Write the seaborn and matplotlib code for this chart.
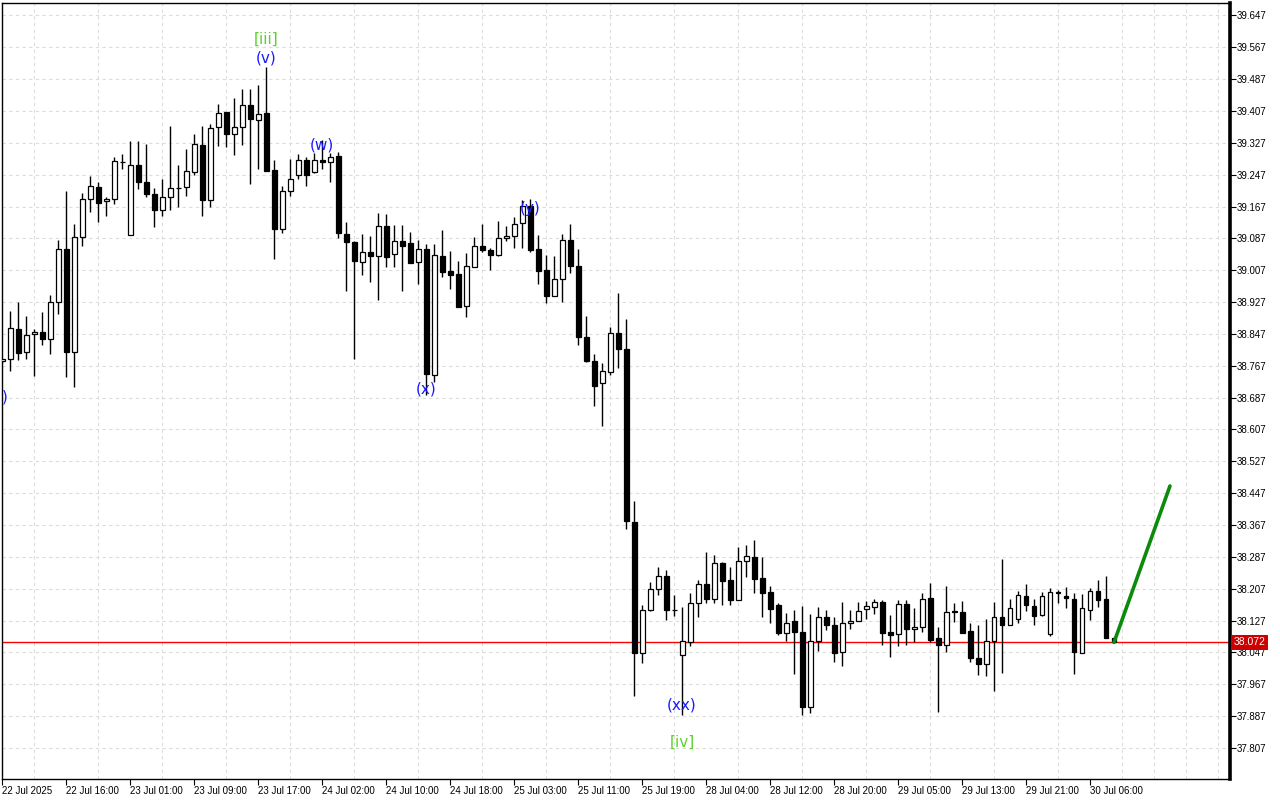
#!/usr/bin/env python3
"""
Gráfico de velas horario con etiquetas de ondas de Elliott y proyección.
"""

import numpy as np
import pandas as pd
import matplotlib
matplotlib.use("Agg")
import matplotlib.pyplot as plt
import matplotlib.transforms as mtransforms
import seaborn as sns

# --- Datos ---
opens = [
    38.778, 38.783, 38.859, 38.801, 38.846, 38.851, 38.834, 38.926, 39.060, 38.801,
    39.090, 39.185, 39.216, 39.180, 39.185, 39.278, 39.095, 39.271, 39.228, 39.198,
    39.158, 39.190, 39.214, 39.215, 39.253, 39.321, 39.184, 39.366, 39.404, 39.348,
    39.366, 39.421, 39.384, 39.402, 39.259, 39.111, 39.205, 39.246, 39.283, 39.253,
    39.283, 39.278, 39.293, 39.097, 39.077, 39.027, 39.052, 39.042, 39.117, 39.047,
    39.080, 39.075, 39.027, 39.060, 38.743, 39.043, 39.005, 38.997, 38.916, 39.016,
    39.067, 39.058, 39.044, 39.087, 39.092, 39.125, 39.168, 39.060, 39.008, 38.943,
    38.984, 39.082, 39.018, 38.839, 38.779, 38.724, 38.752, 38.849, 38.809, 38.374,
    38.045, 38.153, 38.205, 38.238, 38.153, 38.040, 38.072, 38.170, 38.219, 38.182,
    38.271, 38.228, 38.179, 38.276, 38.286, 38.233, 38.199, 38.165, 38.096, 38.125,
    38.097, 37.909, 38.075, 38.137, 38.117, 38.047, 38.120, 38.127, 38.155, 38.160,
    38.174, 38.097, 38.092, 38.168, 38.107, 38.111, 38.183, 38.082, 38.065, 38.151,
    38.148, 38.101, 38.034, 38.017, 38.075, 38.136, 38.116, 38.132, 38.189, 38.163,
    38.142, 38.094, 38.199, 38.188, 38.180, 38.046, 38.154, 38.200, 38.180, 38.084,
]
highs = [
    38.784, 38.905, 38.928, 38.893, 38.859, 38.901, 38.945, 39.083, 39.207, 39.123,
    39.202, 39.244, 39.228, 39.190, 39.292, 39.299, 39.332, 39.332, 39.325, 39.213,
    39.236, 39.368, 39.271, 39.312, 39.349, 39.369, 39.374, 39.425, 39.404, 39.440,
    39.462, 39.462, 39.472, 39.518, 39.284, 39.219, 39.287, 39.299, 39.292, 39.302,
    39.334, 39.301, 39.303, 39.127, 39.081, 39.098, 39.093, 39.150, 39.148, 39.121,
    39.121, 39.102, 39.082, 39.073, 39.073, 39.108, 39.055, 39.030, 39.050, 39.091,
    39.123, 39.062, 39.131, 39.119, 39.140, 39.184, 39.186, 39.096, 39.045, 39.043,
    39.098, 39.123, 39.060, 38.892, 38.797, 38.774, 38.864, 38.949, 38.884, 38.427,
    38.166, 38.224, 38.261, 38.254, 38.190, 38.160, 38.195, 38.228, 38.299, 38.292,
    38.275, 38.261, 38.312, 38.317, 38.329, 38.286, 38.215, 38.172, 38.145, 38.153,
    38.163, 38.143, 38.160, 38.153, 38.135, 38.173, 38.153, 38.173, 38.177, 38.180,
    38.178, 38.141, 38.179, 38.179, 38.158, 38.196, 38.222, 38.110, 38.214, 38.172,
    38.176, 38.121, 38.116, 38.132, 38.173, 38.282, 38.180, 38.202, 38.219, 38.180,
    38.199, 38.209, 38.204, 38.212, 38.195, 38.194, 38.209, 38.229, 38.240, 38.086,
]
lows = [
    38.774, 38.755, 38.781, 38.784, 38.742, 38.819, 38.797, 38.898, 38.739, 38.714,
    39.069, 39.152, 39.129, 39.142, 39.173, 39.261, 39.095, 39.212, 39.192, 39.116,
    39.142, 39.157, 39.167, 39.194, 39.246, 39.144, 39.167, 39.320, 39.317, 39.297,
    39.322, 39.224, 39.262, 39.255, 39.035, 39.101, 39.194, 39.235, 39.219, 39.251,
    39.260, 39.229, 39.087, 38.956, 38.785, 38.996, 38.978, 38.931, 39.016, 39.014,
    38.956, 39.024, 38.972, 38.694, 38.726, 38.989, 38.960, 38.914, 38.890, 39.014,
    39.054, 39.008, 39.042, 39.081, 39.064, 39.062, 39.054, 38.972, 38.924, 38.941,
    38.928, 38.999, 38.819, 38.777, 38.667, 38.616, 38.744, 38.761, 38.356, 37.938,
    38.021, 38.151, 38.192, 38.128, 38.139, 37.890, 38.064, 38.137, 38.172, 38.172,
    38.167, 38.167, 38.178, 38.237, 38.197, 38.137, 38.120, 38.091, 38.076, 37.993,
    37.891, 37.896, 38.051, 38.103, 38.023, 38.013, 38.106, 38.126, 38.131, 38.143,
    38.066, 38.035, 38.063, 38.065, 38.074, 38.098, 38.072, 37.898, 38.049, 38.124,
    38.095, 38.023, 37.991, 37.988, 37.951, 37.996, 38.116, 38.120, 38.150, 38.116,
    38.139, 38.088, 38.172, 38.158, 37.993, 38.045, 38.128, 38.162, 38.082, 38.072,
]
closes = [
    38.783, 38.861, 38.800, 38.844, 38.851, 38.833, 38.926, 39.060, 38.802, 39.090,
    39.185, 39.219, 39.177, 39.185, 39.281, 39.278, 39.271, 39.228, 39.198, 39.159,
    39.190, 39.213, 39.214, 39.256, 39.323, 39.184, 39.364, 39.401, 39.348, 39.367,
    39.421, 39.386, 39.399, 39.255, 39.111, 39.206, 39.236, 39.283, 39.246, 39.283,
    39.278, 39.291, 39.100, 39.077, 39.029, 39.052, 39.042, 39.117, 39.041, 39.080,
    39.069, 39.026, 39.060, 38.747, 39.045, 39.003, 38.996, 38.915, 39.017, 39.067,
    39.059, 39.046, 39.088, 39.092, 39.122, 39.168, 39.058, 39.006, 38.943, 38.984,
    39.082, 39.018, 38.838, 38.779, 38.717, 38.753, 38.849, 38.808, 38.378, 38.045,
    38.153, 38.205, 38.238, 38.153, 38.153, 38.075, 38.170, 38.218, 38.182, 38.271,
    38.227, 38.179, 38.276, 38.289, 38.232, 38.197, 38.157, 38.096, 38.120, 38.097,
    37.910, 38.075, 38.137, 38.117, 38.045, 38.120, 38.127, 38.151, 38.163, 38.173,
    38.096, 38.090, 38.168, 38.106, 38.112, 38.180, 38.079, 38.065, 38.148, 38.148,
    38.096, 38.032, 38.017, 38.075, 38.137, 38.116, 38.158, 38.190, 38.167, 38.139,
    38.188, 38.198, 38.195, 38.183, 38.049, 38.158, 38.200, 38.179, 38.083, 38.072,
]

# Etiquetas del eje X (una cada 8 velas)
x_labels = [
    "22 Jul 2025", "22 Jul 16:00", "23 Jul 01:00", "23 Jul 09:00", "23 Jul 17:00",
    "24 Jul 02:00", "24 Jul 10:00", "24 Jul 18:00", "25 Jul 03:00", "25 Jul 11:00",
    "25 Jul 19:00", "28 Jul 04:00", "28 Jul 12:00", "28 Jul 20:00", "29 Jul 05:00",
    "29 Jul 13:00", "29 Jul 21:00", "30 Jul 06:00",
]
x_label_pos = list(range(0, 8 * len(x_labels), 8))

# Marcas de precio del eje derecho
y_ticks = [round(37.807 + 0.08 * k, 3) for k in range(24)]

# Etiquetas de ondas: texto, vela, precio, tipo
wave_text = ["[iii]", "(v)", "(w)", "(y)", "(x)", "(xx)", "[iv]", ")"]
wave_bar = [33, 33, 40, 66, 53, 85, 85, 0.3]
wave_price = [39.588, 39.540, 39.322, 39.163, 38.709, 37.915, 37.822, 38.689]
wave_kind = ["minor", "minute", "minute", "minute", "minute", "minute", "minor", "minute"]

# Proyección (línea verde)
proj_bar = [139, 146]
proj_price = [38.072, 38.465]

last_price = closes[-1]

# --- Gráfico ---
sns.set_style("white")
plt.rcParams['font.family'] = ['Liberation Sans', 'DejaVu Sans']

df = pd.DataFrame({'open': opens, 'high': highs, 'low': lows, 'close': closes})
df['bar'] = np.arange(len(df))
df['up'] = df['close'] >= df['open']

fig = plt.figure(figsize=(12.8, 8), dpi=100)
ax = fig.add_axes([0.0018, 0.02625, 0.9591, 0.9704])

grid_kw = dict(color='#dcdcdc', linestyle=(0, (3, 3)), linewidth=0.8)
ax.set_axisbelow(True)

# Mechas y cuerpos
ax.vlines(df['bar'], df['low'], df['high'], color='black', linewidth=1.0, zorder=3)
ax.bar(df['bar'], df['close'] - df['open'], bottom=df['open'], width=0.62,
       color=np.where(df['up'], 'white', 'black'), edgecolor='black',
       linewidth=0.9, zorder=4)

# Línea de último precio y proyección
ax.axhline(last_price, color='#ff0000', linewidth=1.0, zorder=2)
sns.lineplot(x=proj_bar, y=proj_price, color='#0b8a0b', linewidth=2.6, ax=ax, zorder=5)

# Etiquetas de ondas
colors = {'minor': '#5fd12f', 'minute': '#1a1aff'}
for txt, xb, yp, kind in zip(wave_text, wave_bar, wave_price, wave_kind):
    ax.text(xb, yp, txt, color=colors[kind], fontsize=11, ha='center', va='center',
            family=['DejaVu Sans'], zorder=6, clip_on=True)

ax.set_xlim(0.04, 153.5)
ax.set_ylim(37.729, 39.679)

# Ejes y rejilla
ax.yaxis.tick_right()
ax.set_yticks(y_ticks)
ax.set_yticklabels([f"{v:.3f}" for v in y_ticks])
ax.tick_params(axis='y', which='major', length=4, width=0.8, direction='out',
               labelsize=7, pad=1, colors='black', right=True, left=False)

ax.set_xticks(x_label_pos)
ax.set_xticklabels(x_labels)
ax.set_xticks(list(range(0, 154, 4)), minor=True)
ax.tick_params(axis='x', which='major', length=4, width=0.8, direction='out',
               labelsize=7, pad=1, colors='black', bottom=True)
ax.tick_params(axis='x', which='minor', length=0)
for lbl in ax.get_xticklabels():
    lbl.set_ha('left')
    lbl.set_family(['Liberation Sans Narrow', 'Liberation Sans', 'DejaVu Sans'])

ax.grid(which='minor', axis='x', **grid_kw)
ax.grid(which='major', axis='x', visible=False)
ax.grid(which='major', axis='y', **grid_kw)

for side in ['left', 'top', 'bottom']:
    ax.spines[side].set_color('black')
    ax.spines[side].set_linewidth(1.0)
ax.spines['right'].set_color('black')
ax.spines['right'].set_linewidth(2.6)

# Etiqueta del último precio
trans = mtransforms.blended_transform_factory(ax.transAxes, ax.transData)
ax.text(1.003, last_price, f"{last_price:.3f}", transform=trans, ha='left', va='center',
        fontsize=7.5, color='white', zorder=10, clip_on=False,
        bbox=dict(boxstyle='square,pad=0.22', fc='#cc0000', ec='none'))

fig.savefig('out.png', dpi=100)
